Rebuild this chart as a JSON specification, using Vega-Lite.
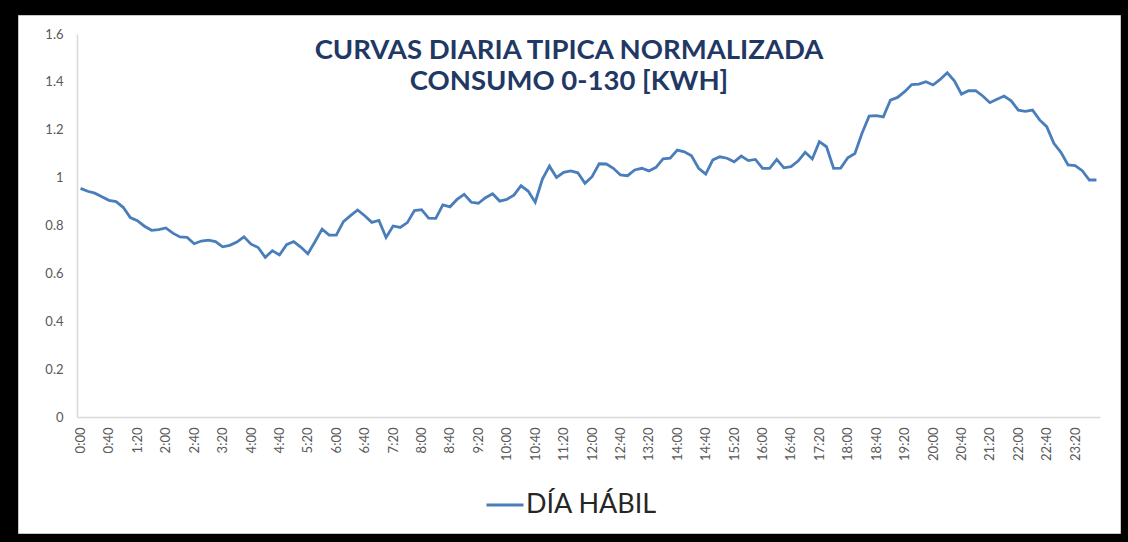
{
"$schema": "https://vega.github.io/schema/vega-lite/v6.json",
"width": 1102, "height": 518,
"autosize": {"type": "none"},
"padding": {"left": 18, "top": 15, "right": 8, "bottom": 9},
"background": "#000000",
"config": {"view": {"fill": "white", "stroke": "#c8c8c8", "strokeWidth": 1}, "font": "Lato"},
"title": {"text": ["CURVAS DIARIA TIPICA NORMALIZADA", "CONSUMO 0-130 [KWH]"], "fontSize": 27.5, "font": "Lato", "fontWeight": "bold", "color": "#1F3864", "anchor": "middle", "offset": -80, "lineHeight": 31},
"data": {"values": [
{"t":"0:00","v":0.955,"s":"DÍA HÁBIL"},{"t":"0:10","v":0.943,"s":"DÍA HÁBIL"},{"t":"0:20","v":0.935,"s":"DÍA HÁBIL"},{"t":"0:30","v":0.92,"s":"DÍA HÁBIL"},{"t":"0:40","v":0.905,"s":"DÍA HÁBIL"},{"t":"0:50","v":0.9,"s":"DÍA HÁBIL"},
{"t":"1:00","v":0.876,"s":"DÍA HÁBIL"},{"t":"1:10","v":0.833,"s":"DÍA HÁBIL"},{"t":"1:20","v":0.82,"s":"DÍA HÁBIL"},{"t":"1:30","v":0.797,"s":"DÍA HÁBIL"},{"t":"1:40","v":0.78,"s":"DÍA HÁBIL"},{"t":"1:50","v":0.783,"s":"DÍA HÁBIL"},
{"t":"2:00","v":0.79,"s":"DÍA HÁBIL"},{"t":"2:10","v":0.768,"s":"DÍA HÁBIL"},{"t":"2:20","v":0.752,"s":"DÍA HÁBIL"},{"t":"2:30","v":0.75,"s":"DÍA HÁBIL"},{"t":"2:40","v":0.724,"s":"DÍA HÁBIL"},{"t":"2:50","v":0.735,"s":"DÍA HÁBIL"},
{"t":"3:00","v":0.739,"s":"DÍA HÁBIL"},{"t":"3:10","v":0.733,"s":"DÍA HÁBIL"},{"t":"3:20","v":0.711,"s":"DÍA HÁBIL"},{"t":"3:30","v":0.717,"s":"DÍA HÁBIL"},{"t":"3:40","v":0.731,"s":"DÍA HÁBIL"},{"t":"3:50","v":0.753,"s":"DÍA HÁBIL"},
{"t":"4:00","v":0.722,"s":"DÍA HÁBIL"},{"t":"4:10","v":0.708,"s":"DÍA HÁBIL"},{"t":"4:20","v":0.667,"s":"DÍA HÁBIL"},{"t":"4:30","v":0.695,"s":"DÍA HÁBIL"},{"t":"4:40","v":0.677,"s":"DÍA HÁBIL"},{"t":"4:50","v":0.72,"s":"DÍA HÁBIL"},
{"t":"5:00","v":0.733,"s":"DÍA HÁBIL"},{"t":"5:10","v":0.71,"s":"DÍA HÁBIL"},{"t":"5:20","v":0.682,"s":"DÍA HÁBIL"},{"t":"5:30","v":0.732,"s":"DÍA HÁBIL"},{"t":"5:40","v":0.785,"s":"DÍA HÁBIL"},{"t":"5:50","v":0.76,"s":"DÍA HÁBIL"},
{"t":"6:00","v":0.76,"s":"DÍA HÁBIL"},{"t":"6:10","v":0.816,"s":"DÍA HÁBIL"},{"t":"6:20","v":0.841,"s":"DÍA HÁBIL"},{"t":"6:30","v":0.865,"s":"DÍA HÁBIL"},{"t":"6:40","v":0.841,"s":"DÍA HÁBIL"},{"t":"6:50","v":0.813,"s":"DÍA HÁBIL"},
{"t":"7:00","v":0.821,"s":"DÍA HÁBIL"},{"t":"7:10","v":0.75,"s":"DÍA HÁBIL"},{"t":"7:20","v":0.798,"s":"DÍA HÁBIL"},{"t":"7:30","v":0.792,"s":"DÍA HÁBIL"},{"t":"7:40","v":0.812,"s":"DÍA HÁBIL"},{"t":"7:50","v":0.862,"s":"DÍA HÁBIL"},
{"t":"8:00","v":0.866,"s":"DÍA HÁBIL"},{"t":"8:10","v":0.831,"s":"DÍA HÁBIL"},{"t":"8:20","v":0.83,"s":"DÍA HÁBIL"},{"t":"8:30","v":0.886,"s":"DÍA HÁBIL"},{"t":"8:40","v":0.878,"s":"DÍA HÁBIL"},{"t":"8:50","v":0.909,"s":"DÍA HÁBIL"},
{"t":"9:00","v":0.93,"s":"DÍA HÁBIL"},{"t":"9:10","v":0.897,"s":"DÍA HÁBIL"},{"t":"9:20","v":0.893,"s":"DÍA HÁBIL"},{"t":"9:30","v":0.916,"s":"DÍA HÁBIL"},{"t":"9:40","v":0.933,"s":"DÍA HÁBIL"},{"t":"9:50","v":0.902,"s":"DÍA HÁBIL"},
{"t":"10:00","v":0.909,"s":"DÍA HÁBIL"},{"t":"10:10","v":0.927,"s":"DÍA HÁBIL"},{"t":"10:20","v":0.966,"s":"DÍA HÁBIL"},{"t":"10:30","v":0.944,"s":"DÍA HÁBIL"},{"t":"10:40","v":0.897,"s":"DÍA HÁBIL"},{"t":"10:50","v":0.993,"s":"DÍA HÁBIL"},
{"t":"11:00","v":1.048,"s":"DÍA HÁBIL"},{"t":"11:10","v":1.001,"s":"DÍA HÁBIL"},{"t":"11:20","v":1.022,"s":"DÍA HÁBIL"},{"t":"11:30","v":1.028,"s":"DÍA HÁBIL"},{"t":"11:40","v":1.02,"s":"DÍA HÁBIL"},{"t":"11:50","v":0.976,"s":"DÍA HÁBIL"},
{"t":"12:00","v":1.004,"s":"DÍA HÁBIL"},{"t":"12:10","v":1.058,"s":"DÍA HÁBIL"},{"t":"12:20","v":1.057,"s":"DÍA HÁBIL"},{"t":"12:30","v":1.039,"s":"DÍA HÁBIL"},{"t":"12:40","v":1.011,"s":"DÍA HÁBIL"},{"t":"12:50","v":1.008,"s":"DÍA HÁBIL"},
{"t":"13:00","v":1.032,"s":"DÍA HÁBIL"},{"t":"13:10","v":1.039,"s":"DÍA HÁBIL"},{"t":"13:20","v":1.028,"s":"DÍA HÁBIL"},{"t":"13:30","v":1.043,"s":"DÍA HÁBIL"},{"t":"13:40","v":1.078,"s":"DÍA HÁBIL"},{"t":"13:50","v":1.081,"s":"DÍA HÁBIL"},
{"t":"14:00","v":1.115,"s":"DÍA HÁBIL"},{"t":"14:10","v":1.108,"s":"DÍA HÁBIL"},{"t":"14:20","v":1.091,"s":"DÍA HÁBIL"},{"t":"14:30","v":1.039,"s":"DÍA HÁBIL"},{"t":"14:40","v":1.015,"s":"DÍA HÁBIL"},{"t":"14:50","v":1.074,"s":"DÍA HÁBIL"},
{"t":"15:00","v":1.087,"s":"DÍA HÁBIL"},{"t":"15:10","v":1.081,"s":"DÍA HÁBIL"},{"t":"15:20","v":1.066,"s":"DÍA HÁBIL"},{"t":"15:30","v":1.09,"s":"DÍA HÁBIL"},{"t":"15:40","v":1.071,"s":"DÍA HÁBIL"},{"t":"15:50","v":1.076,"s":"DÍA HÁBIL"},
{"t":"16:00","v":1.039,"s":"DÍA HÁBIL"},{"t":"16:10","v":1.039,"s":"DÍA HÁBIL"},{"t":"16:20","v":1.076,"s":"DÍA HÁBIL"},{"t":"16:30","v":1.041,"s":"DÍA HÁBIL"},{"t":"16:40","v":1.046,"s":"DÍA HÁBIL"},{"t":"16:50","v":1.069,"s":"DÍA HÁBIL"},
{"t":"17:00","v":1.106,"s":"DÍA HÁBIL"},{"t":"17:10","v":1.078,"s":"DÍA HÁBIL"},{"t":"17:20","v":1.15,"s":"DÍA HÁBIL"},{"t":"17:30","v":1.129,"s":"DÍA HÁBIL"},{"t":"17:40","v":1.039,"s":"DÍA HÁBIL"},{"t":"17:50","v":1.04,"s":"DÍA HÁBIL"},
{"t":"18:00","v":1.083,"s":"DÍA HÁBIL"},{"t":"18:10","v":1.101,"s":"DÍA HÁBIL"},{"t":"18:20","v":1.185,"s":"DÍA HÁBIL"},{"t":"18:30","v":1.257,"s":"DÍA HÁBIL"},{"t":"18:40","v":1.259,"s":"DÍA HÁBIL"},{"t":"18:50","v":1.254,"s":"DÍA HÁBIL"},
{"t":"19:00","v":1.324,"s":"DÍA HÁBIL"},{"t":"19:10","v":1.335,"s":"DÍA HÁBIL"},{"t":"19:20","v":1.359,"s":"DÍA HÁBIL"},{"t":"19:30","v":1.389,"s":"DÍA HÁBIL"},{"t":"19:40","v":1.391,"s":"DÍA HÁBIL"},{"t":"19:50","v":1.401,"s":"DÍA HÁBIL"},
{"t":"20:00","v":1.387,"s":"DÍA HÁBIL"},{"t":"20:10","v":1.41,"s":"DÍA HÁBIL"},{"t":"20:20","v":1.438,"s":"DÍA HÁBIL"},{"t":"20:30","v":1.404,"s":"DÍA HÁBIL"},{"t":"20:40","v":1.349,"s":"DÍA HÁBIL"},{"t":"20:50","v":1.363,"s":"DÍA HÁBIL"},
{"t":"21:00","v":1.363,"s":"DÍA HÁBIL"},{"t":"21:10","v":1.341,"s":"DÍA HÁBIL"},{"t":"21:20","v":1.313,"s":"DÍA HÁBIL"},{"t":"21:30","v":1.327,"s":"DÍA HÁBIL"},{"t":"21:40","v":1.341,"s":"DÍA HÁBIL"},{"t":"21:50","v":1.321,"s":"DÍA HÁBIL"},
{"t":"22:00","v":1.282,"s":"DÍA HÁBIL"},{"t":"22:10","v":1.277,"s":"DÍA HÁBIL"},{"t":"22:20","v":1.282,"s":"DÍA HÁBIL"},{"t":"22:30","v":1.241,"s":"DÍA HÁBIL"},{"t":"22:40","v":1.213,"s":"DÍA HÁBIL"},{"t":"22:50","v":1.143,"s":"DÍA HÁBIL"},
{"t":"23:00","v":1.106,"s":"DÍA HÁBIL"},{"t":"23:10","v":1.053,"s":"DÍA HÁBIL"},{"t":"23:20","v":1.05,"s":"DÍA HÁBIL"},{"t":"23:30","v":1.029,"s":"DÍA HÁBIL"},{"t":"23:40","v":0.99,"s":"DÍA HÁBIL"},{"t":"23:50","v":0.99,"s":"DÍA HÁBIL"}
]},
"mark": {"type": "line", "strokeWidth": 2.8},
"encoding": {
"x": {"field": "t", "type": "ordinal", "sort": null,
 "scale": {"type": "point", "padding": 0.5, "range": [59, 1082]},
 "axis": {"orient": "bottom", "offset": -116, "title": null, "labelAngle": -90, "ticks": false, "grid": false, "domainColor": "#d9d9d9", "domainWidth": 1.5, "labelFontSize": 13, "labelColor": "#595959", "labelPadding": 10, "labelOverlap": false,
  "values": ["0:00","0:40","1:20","2:00","2:40","3:20","4:00","4:40","5:20","6:00","6:40","7:20","8:00","8:40","9:20","10:00","10:40","11:20","12:00","12:40","13:20","14:00","14:40","15:20","16:00","16:40","17:20","18:00","18:40","19:20","20:00","20:40","21:20","22:00","22:40","23:20"]}},
"y": {"field": "v", "type": "quantitative",
 "scale": {"domain": [0, 1.6], "range": [402, 19], "nice": false},
 "axis": {"orient": "left", "offset": -59, "title": null, "values": [0, 0.2, 0.4, 0.6, 0.8, 1, 1.2, 1.4, 1.6], "format": "~g", "ticks": false, "grid": false, "domainColor": "#d9d9d9", "domainWidth": 1.5, "labelFontSize": 13, "labelColor": "#595959", "labelPadding": 14}},
"color": {"field": "s", "type": "nominal", "scale": {"range": ["#4A7EBB"]},
 "legend": {"orient": "none", "legendX": 467, "legendY": 470, "title": null, "symbolType": "stroke", "symbolSize": 1369, "symbolStrokeWidth": 3, "labelFontSize": 27, "labelColor": "#262626", "labelOffset": 1, "labelFont": "Lato"}}
}
}
